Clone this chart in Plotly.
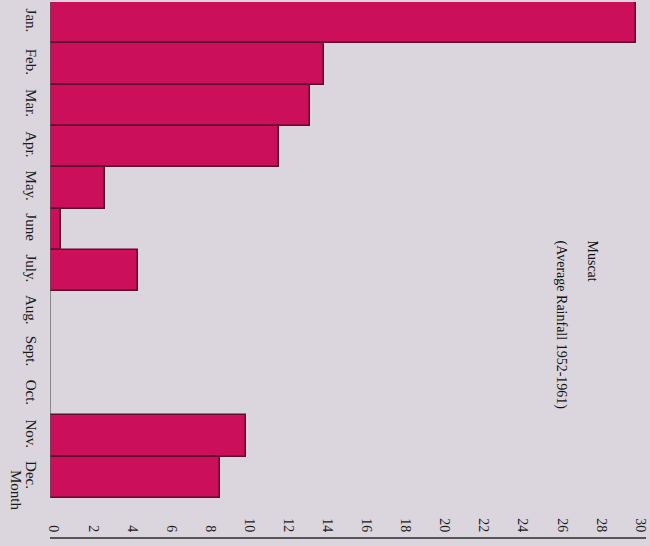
import plotly.graph_objects as go

# Data (Muscat average monthly rainfall 1952-1961)
months = ["Jan.", "Feb.", "Mar.", "Apr.", "May.", "June", "July.", "Aug.", "Sept.", "Oct.", "Nov.", "Dec."]
rainfall = [30.0, 14.0, 13.3, 11.7, 2.8, 0.55, 4.5, 0, 0, 0, 10.05, 8.7]
value_ticks = [0, 2, 4, 6, 8, 10, 12, 14, 16, 18, 20, 22, 24, 26, 28, 30]
title_lines = ["Muscat", "(Average Rainfall 1952-1961)"]
axis_title = "Month"

W, H = 650, 546
ML, MR, MT, MB = 50, 4, 2, 9
PW = W - ML - MR
PH = H - MT - MB


def px_x(px):
    return (px - ML) / PW


def px_y(py):
    return 1 - (py - MT) / PH


BG = "#dbd5de"
BAR = "#cb0f5b"
EDGE = "#5e0f2e"
FONT = "Liberation Serif, Times New Roman, serif"
TXT = "#1a1a1a"

ypos = list(range(len(months)))

fig = go.Figure()
fig.add_trace(go.Bar(
    x=rainfall, y=ypos, orientation="h", width=1.0,
    marker=dict(color=BAR, line=dict(color=EDGE, width=1.5)),
    hoverinfo="x+text", text=months, textposition="none",
))

n = len(months)
fig.add_shape(type="line", xref="x", yref="y", x0=0, x1=0, y0=-0.5, y1=n - 0.5,
              line=dict(color="#555", width=1.2))

fig.update_layout(
    width=W, height=H,
    margin=dict(l=ML, r=MR, t=MT, b=MB, pad=0, autoexpand=False),
    paper_bgcolor=BG, plot_bgcolor=BG,
    showlegend=False,
    bargap=0,
    font=dict(family=FONT, color=TXT),
    xaxis=dict(
        range=[0, 30.5], tickvals=value_ticks, ticktext=[str(v) for v in value_ticks],
        tickangle=90, ticklabelposition="inside", ticks="",
        ticklabeloverflow="allow",
        showgrid=False, zeroline=False, automargin=False,
        showline=True, linecolor="#555", linewidth=1.5,
        tickfont=dict(size=14, family=FONT, color=TXT),
        ticklabelshift=4,
    ),
    yaxis=dict(
        range=[n - 0.5 + 0.944, -0.5], tickvals=ypos, ticktext=months,
        tickangle=90, ticks="", showgrid=False, zeroline=False, showline=False,
        automargin=False,
        tickfont=dict(size=15, family=FONT, color=TXT),
        ticklabelstandoff=8,
    ),
)

# Title (rotated, reading top to bottom)
fig.add_annotation(text=title_lines[0], textangle=90, showarrow=False,
                   xref="paper", yref="paper", x=px_x(592), y=px_y(238),
                   xanchor="center", yanchor="top",
                   font=dict(size=14, family=FONT, color="#111"))
fig.add_annotation(text=title_lines[1], textangle=90, showarrow=False,
                   xref="paper", yref="paper", x=px_x(561), y=px_y(238),
                   xanchor="center", yanchor="top",
                   font=dict(size=14, family=FONT, color="#111"))

# Axis title "Month"
fig.add_annotation(text=axis_title, textangle=90, showarrow=False,
                   xref="paper", yref="paper", x=px_x(16), y=px_y(490),
                   xanchor="center", yanchor="middle",
                   font=dict(size=15, family=FONT, color=TXT))

fig.write_html(
    "out.html",
    config={"displayModeBar": False},
    post_script="document.body.style.margin='0';document.body.style.background='" + BG + "';",
)
